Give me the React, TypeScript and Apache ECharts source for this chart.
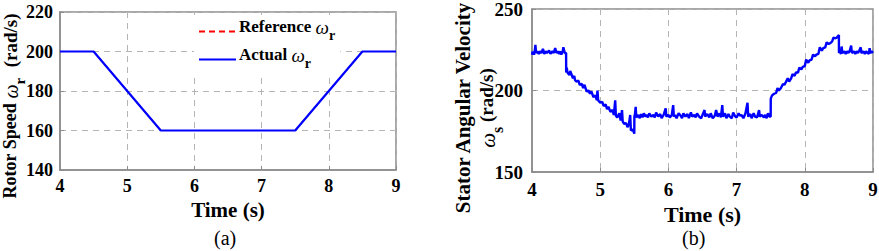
import React, { useEffect, useRef } from "react";
import * as echarts from "echarts";

// ---- data (a): rotor speed ----
const rotorTime = [4, 4.5, 5.5, 7.5, 8.5, 9];
const rotorRef = [200, 200, 160, 160, 200, 200];
const rotorActual = [200, 200, 160, 160, 200, 200];
const rotorYTicks = [140, 160, 180, 200, 220];

// ---- data (b): stator angular velocity (incl. visible spikes) ----
const statorTime = [
  4.0, 4.01, 4.02, 4.03, 4.04, 4.05, 4.06, 4.08, 4.1, 4.12, 4.14, 4.16, 4.18, 4.2, 4.22, 4.25, 4.27, 4.3, 4.32, 4.34, 4.36, 4.38, 4.4, 4.42, 4.43, 4.45, 4.46, 4.48, 4.5,
  4.501, 4.51, 4.52, 4.53, 4.55, 4.56, 4.6, 4.62, 4.63, 4.65, 4.68, 4.7, 4.73, 4.75, 4.77, 4.8, 4.83, 4.85, 4.87, 4.9, 4.93, 4.95, 4.96, 4.97, 5.0, 5.03, 5.05, 5.08, 5.1, 5.12, 5.15, 5.18, 5.2, 5.22, 5.23, 5.25, 5.28, 5.3, 5.32, 5.33, 5.35, 5.38, 5.4, 5.42, 5.44, 5.45, 5.48, 5.5,
  5.501, 5.51, 5.52, 5.53, 5.56, 5.58, 5.6, 5.62, 5.64, 5.66, 5.68, 5.7, 5.72, 5.75, 5.78, 5.8, 5.82, 5.85, 5.88, 5.9, 5.93, 5.96, 5.97, 6.0, 6.02, 6.05, 6.07, 6.08, 6.1, 6.12, 6.15, 6.18, 6.2, 6.22, 6.25, 6.28, 6.3, 6.33, 6.35, 6.38, 6.4, 6.42, 6.45, 6.48, 6.5, 6.53, 6.54, 6.57, 6.6, 6.62, 6.65, 6.68, 6.7, 6.72, 6.75, 6.77, 6.79, 6.8, 6.83, 6.85, 6.88, 6.9, 6.93, 6.95, 6.98, 7.0, 7.03, 7.05, 7.07, 7.1, 7.13, 7.16, 7.17, 7.2, 7.22, 7.25, 7.27, 7.3, 7.33, 7.34, 7.37, 7.4, 7.42, 7.44, 7.46, 7.48, 7.5,
  7.501, 7.52, 7.55, 7.58, 7.6, 7.62, 7.65, 7.68, 7.7, 7.72, 7.75, 7.77, 7.8, 7.82, 7.85, 7.87, 7.9, 7.92, 7.95, 7.97, 8.0, 8.02, 8.05, 8.07, 8.1, 8.12, 8.15, 8.17, 8.2, 8.22, 8.25, 8.27, 8.3, 8.32, 8.35, 8.37, 8.4, 8.42, 8.45, 8.47, 8.5,
  8.501, 8.51, 8.53, 8.54, 8.55, 8.58, 8.6, 8.62, 8.64, 8.66, 8.68, 8.69, 8.72, 8.74, 8.76, 8.78, 8.8, 8.82, 8.83, 8.86, 8.88, 8.9, 8.92, 8.94, 8.95, 8.96, 8.98, 9.0,
];
const statorOmega = [
  222, 224, 223, 222, 224, 228, 223, 224, 222.5, 224, 223, 225.5, 222.5, 224, 223, 224.5, 222.5, 224, 223, 226, 223, 224, 222.5, 224, 222, 224, 226.5, 223, 223,
  211, 214, 211, 210.5, 209.5, 212, 207.5, 209, 206.5, 205.5, 206, 203.5, 204, 201.5, 203.5, 199.5, 200, 198, 199.5, 196, 197, 194, 200, 194, 192.5, 193, 190.5, 191.5, 188.5, 190, 187, 188, 185, 194, 184.5, 183.5, 186, 181.5, 188, 181, 179.5, 180, 177.5, 179, 185, 175.5, 176, 173.5,
  184, 185.5, 190, 183.5, 185, 183, 185.5, 183.5, 186, 184, 185, 183.5, 186, 184, 185, 183.5, 186.5, 184, 185.5, 183, 185, 189, 184, 185, 183.5, 185, 191, 184, 185, 183, 186, 184.5, 183, 186, 184, 185.5, 183, 186.5, 184, 185, 183.5, 186, 184, 183, 185, 188, 184, 185.5, 183.5, 186, 183, 184.5, 188, 184, 186, 183.5, 191, 184, 186, 183, 185.5, 184, 183, 186.5, 184, 183.5, 186, 184.5, 185, 183, 186, 192.5, 184, 185.5, 183, 186, 184, 183.5, 188, 184, 185, 183.5, 185, 183, 186, 184, 184,
  195, 197, 198, 198.5, 201.5, 200, 201.5, 204, 203.5, 205, 207.5, 205.5, 207.5, 210, 209, 211, 211, 214, 213, 214.5, 215, 219, 217, 218.5, 219, 222, 221, 222, 222.5, 226.5, 224.5, 226, 226.5, 229.5, 228.5, 229, 230, 232.5, 232, 232.5, 234,
  223, 224, 222.5, 227, 223, 224, 222.5, 224, 223, 224.5, 227.5, 223, 224, 222.5, 224, 223, 224.5, 226.5, 223, 224, 222.5, 224, 223, 222.5, 226, 223, 224, 223,
];
const statorYTicks = [150, 200, 250];
const timeTicks = [4, 5, 6, 7, 8, 9];

const FONT = "Liberation Serif";
const AXIS_COLOR = "#8c8c8c";
const GRID_COLOR = "#b4b4b4";

const richBase = (size: number, big: number = size) => ({
  a: { fontFamily: FONT, fontWeight: "bold" as const, fontSize: size, fill: "#000", color: "#000", lineHeight: size + 4, verticalAlign: "top" as const },
  b: { fontFamily: FONT, fontWeight: "bold" as const, fontSize: big, fill: "#000", color: "#000", lineHeight: size + 4, verticalAlign: "top" as const },
  w: { fontFamily: FONT, fontStyle: "italic" as const, fontSize: size + 2, fill: "#000", color: "#000", lineHeight: size + 4, verticalAlign: "top" as const },
  s: { fontFamily: FONT, fontWeight: "bold" as const, fontSize: size - 3, fill: "#000", color: "#000", lineHeight: size - 1, padding: [Math.round(size * 0.6), 1, 0, 0], verticalAlign: "top" as const },
});

export default function App() {
  const ref = useRef<HTMLDivElement>(null);
  useEffect(() => {
    document.body.style.margin = "0";
    const chart = echarts.init(ref.current!, undefined, { renderer: "svg" });
    const rotorRefPairs = rotorTime.map((t, i) => [t, rotorRef[i]]);
    const rotorActPairs = rotorTime.map((t, i) => [t, rotorActual[i]]);
    const statorPairs = statorTime.map((t, i) => [t, statorOmega[i]]);

    const axisCommon = {
      axisLine: { show: true, onZero: false, lineStyle: { color: AXIS_COLOR, width: 1.5 } },
      axisTick: { show: true, inside: true, length: 4, lineStyle: { color: AXIS_COLOR } },
      splitLine: { show: true, lineStyle: { color: GRID_COLOR, type: [6, 5], width: 1 } },
    };
    const tickLabel = (size: number, margin: number) => ({
      fontFamily: FONT, fontWeight: "bold" as const, fontSize: size, color: "#000", margin,
    });
    const statorRich = {
      ...richBase(21, 21),
      c: { fontFamily: FONT, fontWeight: "bold" as const, fontSize: 19, fill: "#000", color: "#000", lineHeight: 25, verticalAlign: "top" as const },
      w2: { fontFamily: FONT, fontStyle: "italic" as const, fontSize: 21, fill: "#000", color: "#000", lineHeight: 25, verticalAlign: "top" as const },
      s2: { fontFamily: FONT, fontWeight: "bold" as const, fontSize: 16, fill: "#000", color: "#000", lineHeight: 18, padding: [12, 0, 0, 0], verticalAlign: "top" as const },
    };

    chart.setOption({
      animation: false,
      backgroundColor: "#fff",
      grid: [
        { left: 60, right: 483, top: 12, bottom: 81, show: true, borderColor: AXIS_COLOR, borderWidth: 1.5, containLabel: false, outerBoundsMode: "none" },
        { left: 532, right: 6, top: 9, bottom: 79, show: true, borderColor: AXIS_COLOR, borderWidth: 1.5, containLabel: false, outerBoundsMode: "none" },
      ],
      xAxis: [
        {
          type: "value", gridIndex: 0, min: 4, max: 9, interval: 1, ...axisCommon,
          axisLabel: { ...tickLabel(18, 7), formatter: (v: number) => (timeTicks.includes(v) ? String(v) : "") },
          name: "Time (s)", nameLocation: "middle", nameGap: 28,
          nameTextStyle: { fontFamily: FONT, fontWeight: "bold", fontSize: 21, color: "#000" },
        },
        {
          type: "value", gridIndex: 1, min: 4, max: 9, interval: 1, ...axisCommon,
          axisLabel: { ...tickLabel(19, 8), formatter: (v: number) => (timeTicks.includes(v) ? String(v) : "") },
          name: "Time (s)", nameLocation: "middle", nameGap: 25,
          nameTextStyle: { fontFamily: FONT, fontWeight: "bold", fontSize: 22, color: "#000" },
        },
      ],
      yAxis: [
        {
          type: "value", gridIndex: 0, min: 140, max: 220, interval: 20, ...axisCommon,
          axisLabel: { ...tickLabel(18, 7), formatter: (v: number) => (rotorYTicks.includes(v) ? String(v) : "") },
        },
        {
          type: "value", gridIndex: 1, min: 150, max: 250, interval: 50, ...axisCommon,
          axisLabel: { ...tickLabel(19, 9), formatter: (v: number) => (statorYTicks.includes(v) ? String(v) : "") },
        },
      ],
      legend: {
        data: ["Reference ωr", "Actual ωr"],
        orient: "vertical",
        left: 194,
        top: 15,
        padding: [3, 4, 3, 4],
        itemWidth: 37,
        itemHeight: 14,
        itemGap: 4,
        backgroundColor: "#fff",
        itemStyle: { opacity: 0 },
        lineStyle: { width: 2 },
        formatter: (n: string) => (n.startsWith("Reference") ? "{a|Reference }{w|ω}{s|r}" : "{a|Actual }{w|ω}{s|r}"),
        textStyle: { rich: richBase(17), padding: [-6, 0, 0, -2] },
      },
      series: [
        {
          name: "Reference ωr", type: "line", xAxisIndex: 0, yAxisIndex: 0, data: rotorRefPairs,
          symbol: "none", lineStyle: { color: "#ff0000", width: 1.2, type: [6, 4] }, itemStyle: { color: "#ff0000" },
        },
        {
          name: "Actual ωr", type: "line", xAxisIndex: 0, yAxisIndex: 0, data: rotorActPairs,
          symbol: "none", lineStyle: { color: "#0000ff", width: 2.2 }, itemStyle: { color: "#0000ff" },
        },
        {
          name: "Stator ωs", type: "line", xAxisIndex: 1, yAxisIndex: 1, data: statorPairs,
          symbol: "none", lineStyle: { color: "#0000ff", width: 2.4 }, itemStyle: { color: "#0000ff" },
        },
      ],
      graphic: [
        {
          type: "text", x: 12, y: 106, rotation: Math.PI / 2,
          style: { text: "{a|Rotor Speed }{w|ω}{s|r}{b|  (rad/s)}", rich: richBase(18, 19), align: "center", verticalAlign: "middle" },
        },
        {
          type: "text", x: 477, y: 108, rotation: Math.PI / 2,
          style: { text: "{a|Stator Angular Velocity}\n{w2|ω}{s2|s}{c| (rad/s)}", rich: statorRich, align: "center", verticalAlign: "middle" },
        },
        { type: "text", left: 214, top: 228, style: { text: "(a)", font: `20px ${FONT}`, fill: "#000" } },
        { type: "text", left: 682, top: 228, style: { text: "(b)", font: `20px ${FONT}`, fill: "#000" } },
      ],
    });
    return () => chart.dispose();
  }, []);
  return <div ref={ref} style={{ width: 879, height: 251 }} />;
}
